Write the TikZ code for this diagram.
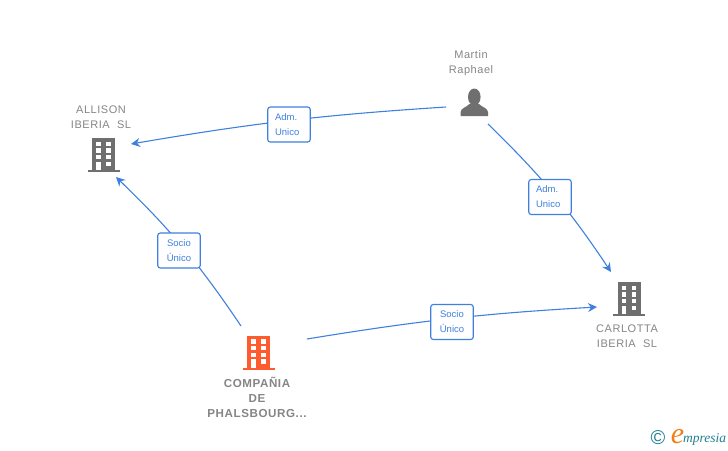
\documentclass[tikz,border=0pt]{standalone}
\usepackage{fontspec}
\setmainfont{Liberation Sans}
\newfontfamily\lblfont[LetterSpace=5]{Liberation Sans}
\newfontfamily\logofont{Liberation Serif}
\usetikzlibrary{calc,arrows.meta}
\definecolor{linkblue}{HTML}{3F80DE}
\definecolor{icongray}{HTML}{6F6F6F}
\definecolor{textgray}{HTML}{858585}
\definecolor{iconred}{HTML}{FF5B2E}
\definecolor{logoteal}{HTML}{1F7F93}
\definecolor{logoorange}{HTML}{F07F1A}
\tikzset{
  link/.style={draw=linkblue,line width=1.1pt,-{Stealth[length=9pt,width=9pt,inset=3pt]}},
  tagbox/.style={draw=linkblue,line width=1.1pt,fill=white,rounded corners=2.5pt,minimum width=42.5pt,minimum height=35pt,inner sep=0pt,text=linkblue,font=\fontsize{9.5}{15}\selectfont},
  namelbl/.style={text=textgray,align=center,inner sep=0pt,font=\fontsize{11}{15}\lblfont}
}
% building icon, shift = centre of the top edge
\newcommand{\bldgicon}[2]{
  \begin{scope}[shift={(#1)}]
    \fill[#2](-11.5,0) rectangle (11.5,32);
    \fill[#2](-16,32) rectangle (16,34);
    \foreach \y in {3.4,10,16.7}{
      \fill[white](-7.5,\y) rectangle (-2.8,\y+4.4);
      \fill[white](2.5,\y) rectangle (7.2,\y+4.4);
    }
    \fill[white](-7.5,23.4) rectangle (-2.8,32);
    \fill[white](2.5,23.4) rectangle (7.2,27.8);
  \end{scope}
}
\begin{document}
\begin{tikzpicture}[x=1pt,y=-1pt]
  \useasboundingbox (0,0) rectangle (728,450);

  \bldgicon{103.5,138.3}{icongray}
  \bldgicon{629,282.3}{icongray}
  \bldgicon{258.7,336}{iconred}

  % person
  \fill[icongray](474.3,97) ellipse (6.3 and 8.5);
  \fill[icongray](460.6,116) -- (460.6,112) .. controls (461,108) and (466,107.5) .. (469.5,104)
    -- (479,104) .. controls (482.5,107.5) and (487.5,108) .. (488,112) -- (488,116) -- cycle;

  \node[namelbl](AL) at (101,117){ALLISON\\IBERIA\ \ SL};
  \node[namelbl](MR) at (471,63.5){Martin\\Raphael};
  \node[namelbl](CI) at (627,336){CARLOTTA\\IBERIA\ \ SL};
  \node[namelbl,font=\fontsize{11.6}{15}\lblfont\bfseries](CP) at (257,397){COMPAÑIA\\DE\\PHALSBOURG...};

  \coordinate(MRw) at (446,107);
  \coordinate(MRs) at (488,124);
  \coordinate(ALe) at (131,144);
  \coordinate(ALs) at (116,177);
  \coordinate(CIn) at (611,272);
  \coordinate(CIw) at (597,307);
  \coordinate(CPn) at (241,326);
  \coordinate(CPe) at (307,339);

  \draw[link](MRw) to[bend right=3] (ALe);
  \draw[link](MRs) to[bend left=6] (CIn);
  \draw[link](CPn) to[bend right=6] (ALs);
  \draw[link](CPe) to[bend left=3] (CIw);

  \node[tagbox,align=left,text width=28pt](T1) at (289,124.5){Adm.\\Unico};
  \node[tagbox,align=left,text width=28pt](T2) at (550,197){Adm.\\Unico};
  \node[tagbox,align=center](T3) at (179,250.5){Socio\\Único};
  \node[tagbox,align=center](T4) at (452,322){Socio\\Único};

  % logo
  \node[text=logoteal,inner sep=0pt,font=\fontsize{20}{20}\selectfont](LC) at (658,438){©};
  \node[text=logoorange,inner sep=0pt,font=\fontsize{30}{30}\logofont\itshape](LE) at (677.5,436.5){e};
  \node[anchor=base west,text=logoteal,inner sep=0pt,font=\fontsize{13.5}{13.5}\logofont\itshape](LM) at (683,442){mpresia};
\end{tikzpicture}
\end{document}
